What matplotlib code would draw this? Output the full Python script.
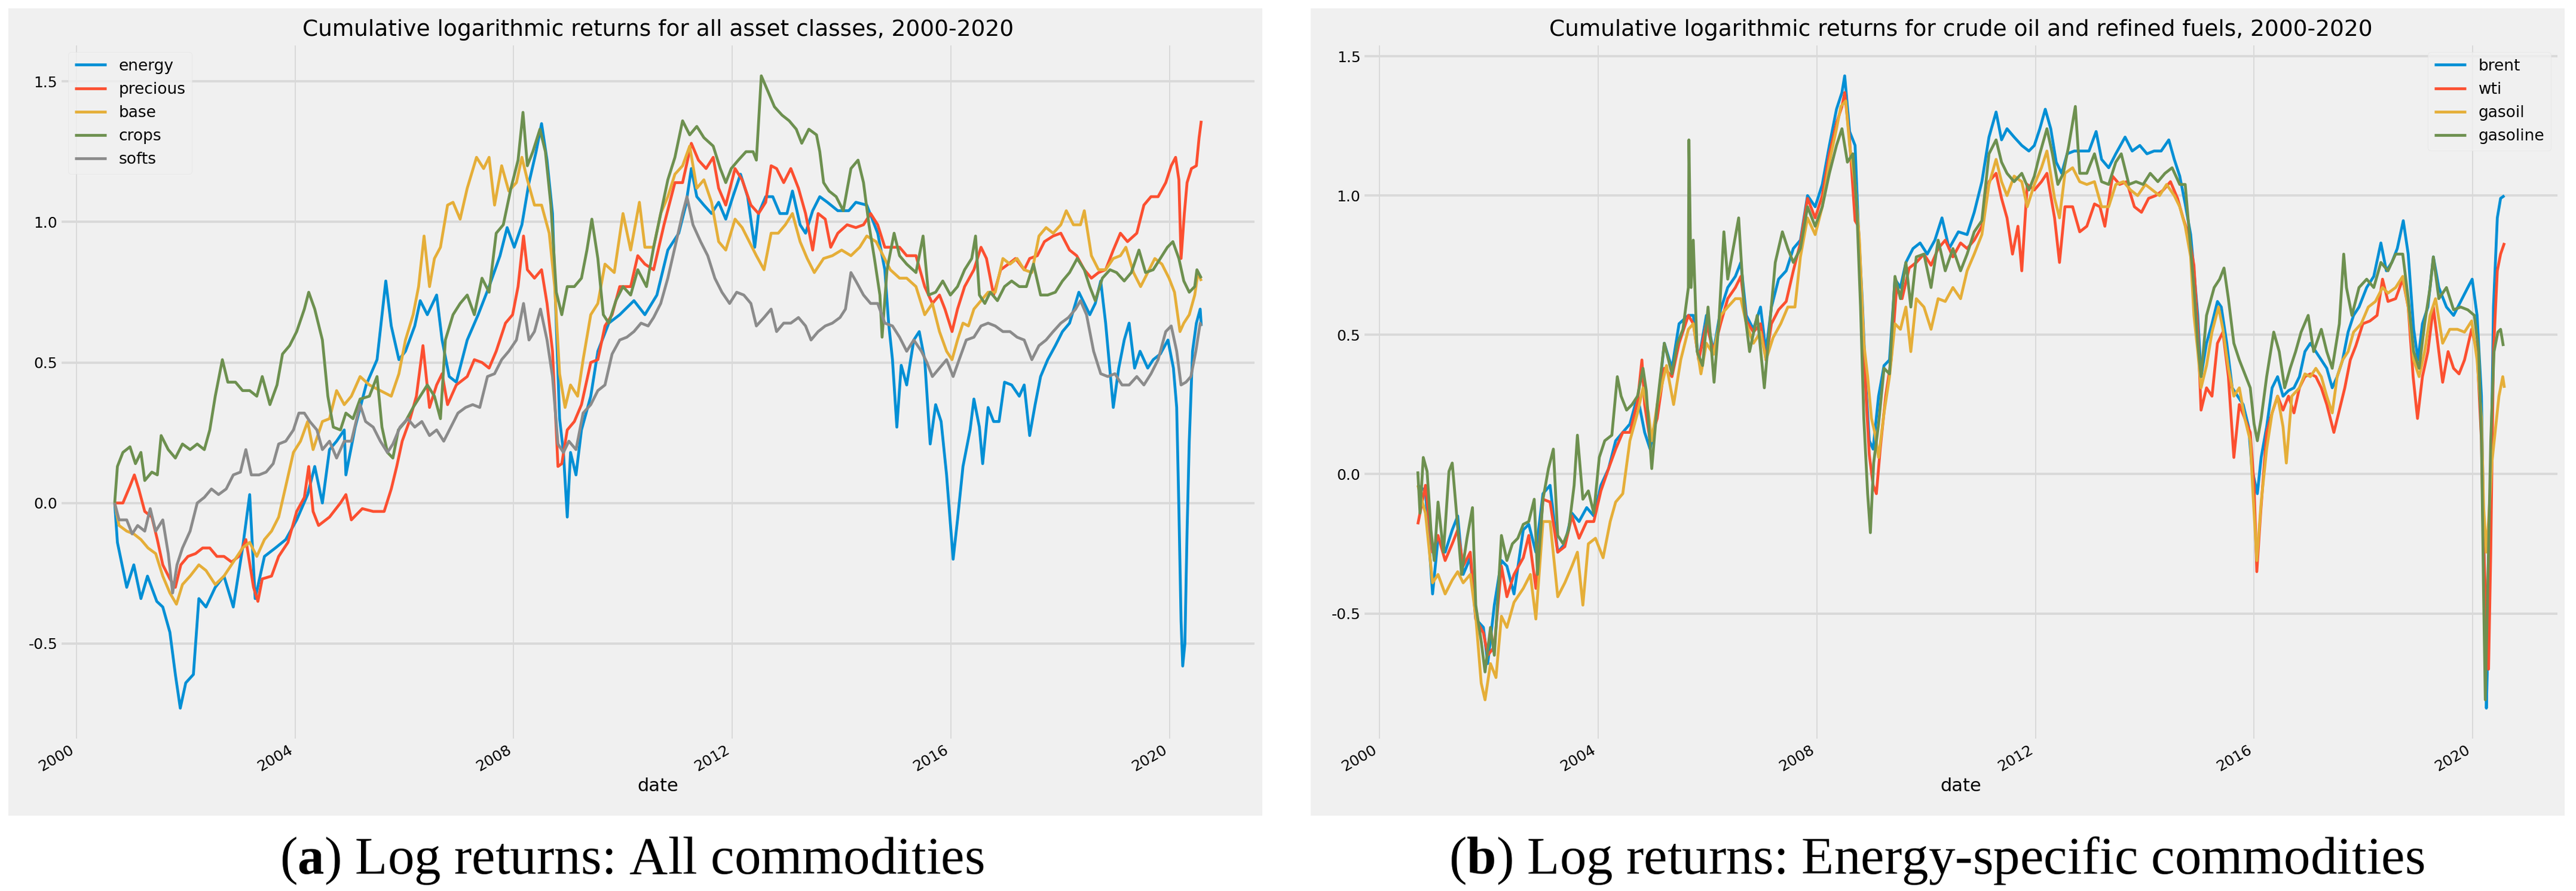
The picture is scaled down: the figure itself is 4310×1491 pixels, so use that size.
import numpy as np
import pandas as pd
import matplotlib
matplotlib.use('Agg')
import matplotlib.pyplot as plt
import matplotlib.dates as mdates
from matplotlib.patches import Rectangle

# cumulative log returns, as (decimal year, value)
energy = [
    (2000.70, 0.00), (2000.75, -0.14), (2000.92, -0.30), (2001.05, -0.22), (2001.18, -0.34),
    (2001.30, -0.26), (2001.47, -0.35), (2001.58, -0.37), (2001.71, -0.46), (2001.81, -0.61),
    (2001.90, -0.73), (2002.00, -0.64), (2002.14, -0.61), (2002.24, -0.34), (2002.37, -0.37),
    (2002.54, -0.30), (2002.70, -0.26), (2002.87, -0.37), (2003.04, -0.16), (2003.17, 0.03),
    (2003.27, -0.34), (2003.44, -0.19), (2003.64, -0.16), (2003.83, -0.13), (2004.03, -0.06),
    (2004.23, 0.03), (2004.36, 0.13), (2004.50, 0.00), (2004.63, 0.19), (2004.76, 0.22),
    (2004.90, 0.26), (2004.93, 0.10), (2005.10, 0.27), (2005.30, 0.42), (2005.50, 0.51),
    (2005.66, 0.79), (2005.76, 0.63), (2005.90, 0.51), (2006.02, 0.54), (2006.19, 0.63),
    (2006.29, 0.72), (2006.42, 0.67), (2006.59, 0.74), (2006.69, 0.58), (2006.82, 0.45),
    (2006.95, 0.43), (2007.15, 0.58), (2007.35, 0.67), (2007.55, 0.77), (2007.75, 0.88),
    (2007.88, 0.98), (2008.01, 0.91), (2008.15, 0.99), (2008.28, 1.14), (2008.41, 1.25),
    (2008.51, 1.35), (2008.61, 1.22), (2008.71, 1.03), (2008.78, 0.63), (2008.84, 0.30),
    (2008.91, 0.18), (2008.98, -0.05), (2009.04, 0.18), (2009.14, 0.10), (2009.24, 0.26),
    (2009.41, 0.38), (2009.54, 0.54), (2009.74, 0.64), (2009.94, 0.67), (2010.20, 0.72),
    (2010.40, 0.67), (2010.62, 0.74), (2010.82, 0.90), (2011.02, 0.96), (2011.15, 1.06),
    (2011.25, 1.19), (2011.35, 1.09), (2011.48, 1.06), (2011.62, 1.03), (2011.75, 1.07),
    (2011.88, 1.01), (2012.01, 1.09), (2012.15, 1.17), (2012.28, 1.09), (2012.41, 0.91),
    (2012.48, 1.03), (2012.61, 1.09), (2012.74, 1.09), (2012.87, 1.03), (2013.00, 1.03),
    (2013.10, 1.11), (2013.24, 0.99), (2013.34, 0.96), (2013.47, 1.04), (2013.60, 1.09),
    (2013.74, 1.07), (2013.93, 1.04), (2014.13, 1.04), (2014.26, 1.07), (2014.46, 1.06),
    (2014.66, 0.96), (2014.79, 0.83), (2014.86, 0.64), (2014.93, 0.51), (2015.01, 0.27),
    (2015.09, 0.49), (2015.19, 0.42), (2015.32, 0.58), (2015.42, 0.61), (2015.52, 0.51),
    (2015.62, 0.21), (2015.72, 0.35), (2015.82, 0.29), (2015.92, 0.10), (2016.04, -0.20),
    (2016.12, -0.06), (2016.22, 0.13), (2016.35, 0.26), (2016.42, 0.37), (2016.52, 0.27),
    (2016.58, 0.14), (2016.68, 0.34), (2016.78, 0.29), (2016.88, 0.29), (2016.98, 0.43),
    (2017.11, 0.42), (2017.25, 0.38), (2017.34, 0.42), (2017.44, 0.24), (2017.54, 0.35),
    (2017.64, 0.45), (2017.77, 0.51), (2017.91, 0.56), (2018.04, 0.61), (2018.17, 0.64),
    (2018.34, 0.75), (2018.44, 0.71), (2018.54, 0.67), (2018.64, 0.71), (2018.74, 0.79),
    (2018.83, 0.64), (2018.97, 0.34), (2019.07, 0.48), (2019.17, 0.58), (2019.26, 0.64),
    (2019.36, 0.48), (2019.46, 0.54), (2019.60, 0.48), (2019.70, 0.51), (2019.83, 0.53),
    (2019.97, 0.58), (2020.07, 0.48), (2020.13, 0.34), (2020.17, -0.02), (2020.21, -0.42),
    (2020.24, -0.58), (2020.28, -0.50), (2020.32, -0.10), (2020.36, 0.22), (2020.42, 0.54),
    (2020.49, 0.64), (2020.56, 0.69), (2020.58, 0.63),
]

precious = [
    (2000.70, 0.00), (2000.85, 0.00), (2000.98, 0.06), (2001.06, 0.10), (2001.14, 0.05),
    (2001.25, -0.03), (2001.38, -0.05), (2001.48, -0.13), (2001.58, -0.22), (2001.71, -0.27),
    (2001.81, -0.30), (2001.91, -0.22), (2002.04, -0.19), (2002.18, -0.18), (2002.31, -0.16),
    (2002.44, -0.16), (2002.57, -0.19), (2002.70, -0.19), (2002.84, -0.21), (2002.97, -0.19),
    (2003.10, -0.13), (2003.24, -0.30), (2003.32, -0.35), (2003.40, -0.27), (2003.57, -0.26),
    (2003.70, -0.19), (2003.87, -0.14), (2004.03, -0.03), (2004.17, 0.02), (2004.25, 0.13),
    (2004.33, -0.03), (2004.43, -0.08), (2004.63, -0.05), (2004.83, 0.00), (2004.93, 0.03),
    (2005.03, -0.06), (2005.23, -0.02), (2005.43, -0.03), (2005.63, -0.03), (2005.76, 0.05),
    (2005.86, 0.13), (2005.96, 0.22), (2006.09, 0.29), (2006.22, 0.38), (2006.34, 0.56),
    (2006.46, 0.34), (2006.59, 0.42), (2006.69, 0.46), (2006.79, 0.35), (2006.95, 0.42),
    (2007.15, 0.45), (2007.28, 0.51), (2007.42, 0.50), (2007.55, 0.48), (2007.68, 0.54),
    (2007.85, 0.64), (2007.98, 0.67), (2008.08, 0.77), (2008.18, 0.95), (2008.25, 0.83),
    (2008.38, 0.80), (2008.51, 0.83), (2008.61, 0.71), (2008.71, 0.54), (2008.81, 0.13),
    (2008.88, 0.14), (2008.98, 0.26), (2009.11, 0.29), (2009.24, 0.35), (2009.41, 0.50),
    (2009.54, 0.51), (2009.67, 0.63), (2009.80, 0.67), (2009.94, 0.77), (2010.14, 0.77),
    (2010.27, 0.88), (2010.40, 0.85), (2010.56, 0.83), (2010.75, 0.99), (2010.95, 1.14),
    (2011.09, 1.14), (2011.25, 1.28), (2011.38, 1.22), (2011.52, 1.19), (2011.65, 1.23),
    (2011.75, 1.12), (2011.88, 1.06), (2012.05, 1.19), (2012.18, 1.15), (2012.34, 1.06),
    (2012.48, 1.03), (2012.61, 1.07), (2012.71, 1.20), (2012.81, 1.19), (2012.94, 1.14),
    (2013.07, 1.19), (2013.21, 1.12), (2013.34, 1.03), (2013.47, 0.90), (2013.57, 1.03),
    (2013.70, 1.01), (2013.80, 0.91), (2013.93, 0.96), (2014.10, 0.99), (2014.26, 0.98),
    (2014.40, 0.99), (2014.53, 1.03), (2014.66, 0.99), (2014.79, 0.91), (2014.93, 0.91),
    (2015.06, 0.91), (2015.19, 0.88), (2015.36, 0.88), (2015.52, 0.77), (2015.66, 0.71),
    (2015.79, 0.74), (2015.89, 0.69), (2016.02, 0.61), (2016.12, 0.69), (2016.25, 0.77),
    (2016.42, 0.83), (2016.55, 0.91), (2016.65, 0.87), (2016.78, 0.74), (2016.91, 0.83),
    (2017.05, 0.85), (2017.18, 0.87), (2017.34, 0.83), (2017.44, 0.87), (2017.58, 0.88),
    (2017.71, 0.93), (2017.87, 0.95), (2018.01, 0.96), (2018.17, 0.90), (2018.30, 0.88),
    (2018.44, 0.83), (2018.57, 0.80), (2018.70, 0.82), (2018.83, 0.83), (2018.97, 0.90),
    (2019.10, 0.96), (2019.23, 0.93), (2019.40, 0.96), (2019.53, 1.06), (2019.66, 1.09),
    (2019.79, 1.09), (2019.93, 1.14), (2020.03, 1.20), (2020.11, 1.23), (2020.17, 1.15),
    (2020.21, 0.87), (2020.27, 1.03), (2020.32, 1.14), (2020.40, 1.19), (2020.49, 1.20),
    (2020.54, 1.30), (2020.58, 1.36),
]

base = [
    (2000.70, 0.00), (2000.78, -0.08), (2000.92, -0.10), (2001.05, -0.11), (2001.18, -0.13),
    (2001.31, -0.16), (2001.45, -0.18), (2001.58, -0.26), (2001.71, -0.32), (2001.83, -0.36),
    (2001.94, -0.29), (2002.08, -0.26), (2002.24, -0.22), (2002.37, -0.24), (2002.54, -0.29),
    (2002.70, -0.26), (2002.87, -0.21), (2003.04, -0.16), (2003.17, -0.14), (2003.30, -0.19),
    (2003.44, -0.13), (2003.57, -0.10), (2003.70, -0.05), (2003.83, 0.06), (2003.97, 0.18),
    (2004.10, 0.22), (2004.23, 0.29), (2004.33, 0.19), (2004.50, 0.29), (2004.63, 0.30),
    (2004.76, 0.40), (2004.90, 0.35), (2005.03, 0.38), (2005.19, 0.45), (2005.36, 0.42),
    (2005.56, 0.40), (2005.76, 0.38), (2005.90, 0.46), (2006.02, 0.58), (2006.16, 0.67),
    (2006.26, 0.77), (2006.36, 0.95), (2006.46, 0.77), (2006.55, 0.87), (2006.66, 0.91),
    (2006.79, 1.06), (2006.89, 1.07), (2007.02, 1.01), (2007.15, 1.12), (2007.32, 1.23),
    (2007.45, 1.19), (2007.55, 1.23), (2007.65, 1.06), (2007.78, 1.20), (2007.91, 1.11),
    (2008.05, 1.14), (2008.15, 1.23), (2008.25, 1.15), (2008.38, 1.06), (2008.51, 1.06),
    (2008.65, 0.96), (2008.75, 0.77), (2008.84, 0.46), (2008.94, 0.34), (2009.04, 0.42),
    (2009.17, 0.38), (2009.27, 0.51), (2009.41, 0.67), (2009.54, 0.71), (2009.67, 0.85),
    (2009.84, 0.82), (2010.00, 1.03), (2010.14, 0.90), (2010.30, 1.07), (2010.40, 0.91),
    (2010.56, 0.91), (2010.69, 1.03), (2010.82, 1.09), (2010.95, 1.17), (2011.09, 1.20),
    (2011.22, 1.27), (2011.35, 1.12), (2011.48, 1.15), (2011.62, 1.07), (2011.75, 0.93),
    (2011.88, 0.90), (2012.05, 1.01), (2012.18, 0.98), (2012.31, 0.93), (2012.44, 0.88),
    (2012.58, 0.83), (2012.71, 0.96), (2012.84, 0.96), (2012.97, 0.99), (2013.10, 1.03),
    (2013.24, 0.93), (2013.37, 0.87), (2013.50, 0.82), (2013.67, 0.87), (2013.83, 0.88),
    (2014.00, 0.90), (2014.17, 0.88), (2014.33, 0.91), (2014.46, 0.95), (2014.63, 0.93),
    (2014.76, 0.88), (2014.89, 0.83), (2015.06, 0.80), (2015.19, 0.80), (2015.36, 0.77),
    (2015.52, 0.67), (2015.66, 0.71), (2015.79, 0.61), (2015.92, 0.54), (2016.02, 0.51),
    (2016.12, 0.58), (2016.22, 0.64), (2016.32, 0.63), (2016.42, 0.69), (2016.55, 0.72),
    (2016.68, 0.75), (2016.81, 0.75), (2016.95, 0.87), (2017.08, 0.85), (2017.21, 0.87),
    (2017.34, 0.83), (2017.48, 0.82), (2017.61, 0.95), (2017.74, 0.98), (2017.87, 0.96),
    (2018.01, 0.99), (2018.11, 1.04), (2018.24, 0.99), (2018.37, 0.99), (2018.44, 1.04),
    (2018.57, 0.88), (2018.70, 0.83), (2018.83, 0.83), (2018.97, 0.87), (2019.10, 0.88),
    (2019.20, 0.91), (2019.34, 0.82), (2019.47, 0.77), (2019.60, 0.82), (2019.73, 0.87),
    (2019.86, 0.85), (2019.99, 0.80), (2020.09, 0.75), (2020.19, 0.61), (2020.26, 0.64),
    (2020.36, 0.67), (2020.46, 0.74), (2020.52, 0.82), (2020.58, 0.79),
]

crops = [
    (2000.70, 0.00), (2000.75, 0.13), (2000.85, 0.18), (2000.98, 0.20), (2001.08, 0.14),
    (2001.18, 0.18), (2001.25, 0.08), (2001.38, 0.11), (2001.48, 0.10), (2001.55, 0.24),
    (2001.68, 0.19), (2001.81, 0.16), (2001.94, 0.21), (2002.08, 0.19), (2002.21, 0.21),
    (2002.34, 0.19), (2002.44, 0.26), (2002.54, 0.38), (2002.67, 0.51), (2002.77, 0.43),
    (2002.91, 0.43), (2003.04, 0.40), (2003.17, 0.40), (2003.30, 0.38), (2003.40, 0.45),
    (2003.54, 0.35), (2003.67, 0.42), (2003.77, 0.53), (2003.90, 0.56), (2004.03, 0.61),
    (2004.17, 0.69), (2004.25, 0.75), (2004.36, 0.69), (2004.50, 0.58), (2004.60, 0.38),
    (2004.70, 0.27), (2004.83, 0.26), (2004.93, 0.32), (2005.06, 0.30), (2005.19, 0.37),
    (2005.36, 0.38), (2005.50, 0.45), (2005.59, 0.27), (2005.69, 0.18), (2005.79, 0.16),
    (2005.89, 0.26), (2006.02, 0.29), (2006.16, 0.34), (2006.29, 0.38), (2006.42, 0.42),
    (2006.55, 0.38), (2006.66, 0.30), (2006.75, 0.58), (2006.89, 0.67), (2007.02, 0.71),
    (2007.15, 0.74), (2007.28, 0.67), (2007.42, 0.80), (2007.55, 0.75), (2007.68, 0.96),
    (2007.81, 0.99), (2007.95, 1.12), (2008.08, 1.22), (2008.17, 1.39), (2008.25, 1.20),
    (2008.35, 1.25), (2008.48, 1.33), (2008.58, 1.25), (2008.68, 1.06), (2008.78, 0.75),
    (2008.88, 0.67), (2008.98, 0.77), (2009.11, 0.77), (2009.24, 0.80), (2009.34, 0.90),
    (2009.43, 1.01), (2009.54, 0.87), (2009.64, 0.67), (2009.74, 0.64), (2009.87, 0.72),
    (2010.00, 0.77), (2010.14, 0.74), (2010.27, 0.83), (2010.43, 0.77), (2010.56, 0.91),
    (2010.69, 1.03), (2010.82, 1.15), (2010.95, 1.23), (2011.09, 1.36), (2011.22, 1.31),
    (2011.35, 1.34), (2011.48, 1.30), (2011.65, 1.27), (2011.78, 1.19), (2011.88, 1.14),
    (2011.98, 1.19), (2012.11, 1.22), (2012.25, 1.25), (2012.38, 1.25), (2012.44, 1.22),
    (2012.53, 1.52), (2012.64, 1.47), (2012.77, 1.41), (2012.91, 1.38), (2013.04, 1.36),
    (2013.17, 1.33), (2013.27, 1.28), (2013.40, 1.33), (2013.54, 1.31), (2013.60, 1.25),
    (2013.67, 1.14), (2013.77, 1.11), (2013.90, 1.09), (2014.03, 1.04), (2014.17, 1.19),
    (2014.30, 1.22), (2014.40, 1.14), (2014.50, 0.99), (2014.60, 0.87), (2014.70, 0.74),
    (2014.74, 0.59), (2014.83, 0.83), (2014.96, 0.96), (2015.06, 0.88), (2015.19, 0.85),
    (2015.36, 0.82), (2015.49, 0.95), (2015.59, 0.74), (2015.72, 0.75), (2015.85, 0.79),
    (2015.99, 0.74), (2016.12, 0.77), (2016.25, 0.83), (2016.38, 0.87), (2016.45, 0.95),
    (2016.52, 0.74), (2016.62, 0.71), (2016.72, 0.75), (2016.85, 0.72), (2016.98, 0.77),
    (2017.11, 0.79), (2017.25, 0.77), (2017.38, 0.77), (2017.51, 0.85), (2017.64, 0.74),
    (2017.77, 0.74), (2017.91, 0.75), (2018.04, 0.79), (2018.17, 0.82), (2018.31, 0.87),
    (2018.44, 0.83), (2018.54, 0.77), (2018.64, 0.72), (2018.77, 0.80), (2018.91, 0.83),
    (2019.03, 0.82), (2019.17, 0.79), (2019.30, 0.82), (2019.44, 0.90), (2019.56, 0.82),
    (2019.70, 0.83), (2019.83, 0.87), (2019.96, 0.91), (2020.06, 0.93), (2020.17, 0.87),
    (2020.26, 0.79), (2020.36, 0.75), (2020.46, 0.77), (2020.50, 0.83), (2020.58, 0.80),
]

softs = [
    (2000.70, 0.00), (2000.78, -0.06), (2000.92, -0.06), (2001.02, -0.11), (2001.12, -0.08),
    (2001.25, -0.10), (2001.35, -0.02), (2001.45, -0.10), (2001.58, -0.06), (2001.68, -0.18),
    (2001.76, -0.32), (2001.84, -0.22), (2001.94, -0.16), (2002.08, -0.10), (2002.21, 0.00),
    (2002.34, 0.02), (2002.47, 0.05), (2002.60, 0.03), (2002.74, 0.05), (2002.87, 0.10),
    (2003.00, 0.11), (2003.10, 0.19), (2003.20, 0.10), (2003.34, 0.10), (2003.47, 0.11),
    (2003.60, 0.14), (2003.70, 0.21), (2003.83, 0.22), (2003.97, 0.26), (2004.07, 0.32),
    (2004.17, 0.32), (2004.27, 0.29), (2004.40, 0.26), (2004.50, 0.19), (2004.63, 0.22),
    (2004.76, 0.16), (2004.90, 0.22), (2005.03, 0.22), (2005.19, 0.35), (2005.29, 0.29),
    (2005.43, 0.27), (2005.56, 0.22), (2005.69, 0.18), (2005.79, 0.21), (2005.92, 0.27),
    (2006.06, 0.30), (2006.19, 0.27), (2006.32, 0.29), (2006.46, 0.24), (2006.59, 0.26),
    (2006.72, 0.22), (2006.85, 0.27), (2006.98, 0.32), (2007.12, 0.34), (2007.25, 0.35),
    (2007.38, 0.34), (2007.52, 0.45), (2007.65, 0.46), (2007.78, 0.51), (2007.91, 0.54),
    (2008.05, 0.58), (2008.18, 0.71), (2008.28, 0.58), (2008.38, 0.61), (2008.49, 0.69),
    (2008.61, 0.58), (2008.71, 0.45), (2008.81, 0.21), (2008.91, 0.18), (2009.01, 0.22),
    (2009.14, 0.19), (2009.27, 0.32), (2009.41, 0.35), (2009.54, 0.40), (2009.67, 0.42),
    (2009.80, 0.53), (2009.94, 0.58), (2010.07, 0.59), (2010.20, 0.61), (2010.33, 0.64),
    (2010.46, 0.63), (2010.56, 0.66), (2010.69, 0.71), (2010.82, 0.80), (2010.95, 0.91),
    (2011.09, 1.03), (2011.17, 1.09), (2011.28, 0.99), (2011.42, 0.93), (2011.55, 0.88),
    (2011.68, 0.80), (2011.81, 0.75), (2011.95, 0.71), (2012.08, 0.75), (2012.21, 0.74),
    (2012.34, 0.71), (2012.44, 0.63), (2012.58, 0.66), (2012.71, 0.69), (2012.81, 0.61),
    (2012.94, 0.64), (2013.07, 0.64), (2013.21, 0.66), (2013.34, 0.63), (2013.44, 0.58),
    (2013.57, 0.61), (2013.70, 0.63), (2013.83, 0.64), (2013.97, 0.66), (2014.07, 0.69),
    (2014.17, 0.82), (2014.26, 0.79), (2014.40, 0.74), (2014.53, 0.71), (2014.66, 0.71),
    (2014.79, 0.64), (2014.93, 0.63), (2015.06, 0.59), (2015.19, 0.54), (2015.32, 0.58),
    (2015.46, 0.54), (2015.56, 0.50), (2015.66, 0.45), (2015.79, 0.48), (2015.92, 0.51),
    (2016.04, 0.45), (2016.15, 0.51), (2016.28, 0.58), (2016.42, 0.59), (2016.55, 0.63),
    (2016.68, 0.64), (2016.81, 0.63), (2016.95, 0.61), (2017.08, 0.61), (2017.21, 0.59),
    (2017.34, 0.58), (2017.48, 0.51), (2017.61, 0.56), (2017.74, 0.58), (2017.87, 0.61),
    (2018.01, 0.64), (2018.15, 0.66), (2018.28, 0.69), (2018.37, 0.72), (2018.48, 0.67),
    (2018.61, 0.54), (2018.74, 0.46), (2018.87, 0.45), (2019.00, 0.46), (2019.13, 0.42),
    (2019.26, 0.42), (2019.40, 0.45), (2019.53, 0.42), (2019.66, 0.46), (2019.79, 0.51),
    (2019.93, 0.61), (2020.03, 0.63), (2020.13, 0.54), (2020.21, 0.42), (2020.30, 0.43),
    (2020.39, 0.45), (2020.48, 0.54), (2020.56, 0.64), (2020.58, 0.63),
]

brent = [
    (2000.70, -0.04), (2000.84, -0.06), (2000.97, -0.43), (2001.07, -0.23), (2001.20, -0.28),
    (2001.33, -0.20), (2001.43, -0.15), (2001.53, -0.36), (2001.66, -0.30), (2001.76, -0.52),
    (2001.90, -0.55), (2001.98, -0.68), (2002.10, -0.47), (2002.23, -0.31), (2002.33, -0.33),
    (2002.46, -0.43), (2002.63, -0.20), (2002.73, -0.18), (2002.86, -0.28), (2002.99, -0.07),
    (2003.12, -0.04), (2003.26, -0.28), (2003.39, -0.25), (2003.52, -0.14), (2003.65, -0.17),
    (2003.79, -0.12), (2003.92, -0.15), (2004.05, -0.04), (2004.19, 0.02), (2004.32, 0.12),
    (2004.45, 0.15), (2004.58, 0.18), (2004.72, 0.28), (2004.85, 0.15), (2004.95, 0.09),
    (2005.08, 0.23), (2005.21, 0.47), (2005.35, 0.38), (2005.48, 0.54), (2005.65, 0.57),
    (2005.74, 0.57), (2005.84, 0.41), (2005.98, 0.57), (2006.11, 0.44), (2006.24, 0.59),
    (2006.37, 0.67), (2006.51, 0.71), (2006.61, 0.76), (2006.71, 0.57), (2006.84, 0.52),
    (2006.97, 0.60), (2007.07, 0.44), (2007.17, 0.60), (2007.30, 0.70), (2007.44, 0.73),
    (2007.57, 0.81), (2007.70, 0.84), (2007.83, 1.00), (2007.97, 0.96), (2008.10, 1.04),
    (2008.23, 1.18), (2008.36, 1.31), (2008.46, 1.37), (2008.51, 1.43), (2008.60, 1.23),
    (2008.70, 1.18), (2008.76, 0.89), (2008.83, 0.63), (2008.90, 0.31), (2008.96, 0.12),
    (2009.03, 0.09), (2009.13, 0.28), (2009.23, 0.39), (2009.33, 0.41), (2009.43, 0.70),
    (2009.53, 0.67), (2009.63, 0.76), (2009.76, 0.81), (2009.89, 0.83), (2010.02, 0.79),
    (2010.16, 0.84), (2010.29, 0.92), (2010.42, 0.81), (2010.59, 0.87), (2010.75, 0.86),
    (2010.88, 0.94), (2011.02, 1.05), (2011.15, 1.21), (2011.28, 1.30), (2011.38, 1.20),
    (2011.48, 1.24), (2011.61, 1.21), (2011.75, 1.18), (2011.88, 1.16), (2011.98, 1.18),
    (2012.08, 1.24), (2012.18, 1.31), (2012.28, 1.24), (2012.38, 1.12), (2012.48, 1.08),
    (2012.58, 1.15), (2012.71, 1.16), (2012.84, 1.16), (2012.98, 1.16), (2013.11, 1.23),
    (2013.21, 1.13), (2013.34, 1.10), (2013.47, 1.15), (2013.64, 1.21), (2013.77, 1.16),
    (2013.91, 1.18), (2014.04, 1.15), (2014.17, 1.16), (2014.30, 1.16), (2014.44, 1.20),
    (2014.54, 1.13), (2014.64, 1.07), (2014.74, 0.97), (2014.84, 0.86), (2014.90, 0.73),
    (2014.97, 0.57), (2015.03, 0.35), (2015.13, 0.47), (2015.23, 0.54), (2015.33, 0.62),
    (2015.40, 0.60), (2015.50, 0.47), (2015.60, 0.31), (2015.70, 0.28), (2015.80, 0.25),
    (2015.90, 0.17), (2015.96, 0.02), (2016.06, -0.07), (2016.13, 0.06), (2016.23, 0.17),
    (2016.33, 0.31), (2016.43, 0.35), (2016.53, 0.28), (2016.63, 0.30), (2016.73, 0.31),
    (2016.83, 0.35), (2016.93, 0.44), (2017.03, 0.47), (2017.13, 0.44), (2017.23, 0.41),
    (2017.33, 0.38), (2017.43, 0.31), (2017.52, 0.35), (2017.62, 0.41), (2017.72, 0.51),
    (2017.82, 0.57), (2017.92, 0.60), (2018.06, 0.67), (2018.19, 0.71), (2018.32, 0.83),
    (2018.42, 0.73), (2018.52, 0.76), (2018.62, 0.81), (2018.73, 0.91), (2018.82, 0.79),
    (2018.92, 0.52), (2019.00, 0.41), (2019.08, 0.54), (2019.18, 0.60), (2019.28, 0.78),
    (2019.38, 0.67), (2019.52, 0.60), (2019.65, 0.57), (2019.78, 0.62), (2019.91, 0.67),
    (2019.99, 0.70), (2020.08, 0.57), (2020.16, 0.28), (2020.20, -0.20), (2020.25, -0.84),
    (2020.28, -0.60), (2020.33, -0.04), (2020.38, 0.60), (2020.45, 0.92), (2020.51, 0.99),
    (2020.58, 1.00),
]

wti = [
    (2000.70, -0.18), (2000.84, -0.04), (2000.97, -0.28), (2001.07, -0.22), (2001.20, -0.31),
    (2001.33, -0.25), (2001.43, -0.20), (2001.53, -0.33), (2001.66, -0.28), (2001.76, -0.52),
    (2001.90, -0.57), (2001.98, -0.65), (2002.10, -0.62), (2002.23, -0.33), (2002.33, -0.44),
    (2002.46, -0.36), (2002.63, -0.30), (2002.73, -0.22), (2002.86, -0.41), (2002.99, -0.09),
    (2003.12, -0.10), (2003.26, -0.28), (2003.39, -0.26), (2003.52, -0.15), (2003.65, -0.23),
    (2003.79, -0.17), (2003.92, -0.17), (2004.05, -0.06), (2004.19, 0.02), (2004.32, 0.09),
    (2004.45, 0.15), (2004.58, 0.15), (2004.72, 0.26), (2004.80, 0.41), (2004.85, 0.25),
    (2004.95, 0.12), (2005.08, 0.20), (2005.21, 0.38), (2005.35, 0.35), (2005.48, 0.47),
    (2005.65, 0.57), (2005.74, 0.54), (2005.84, 0.41), (2005.98, 0.54), (2006.11, 0.44),
    (2006.24, 0.54), (2006.37, 0.63), (2006.51, 0.67), (2006.61, 0.71), (2006.71, 0.55),
    (2006.84, 0.51), (2006.97, 0.54), (2007.07, 0.41), (2007.17, 0.54), (2007.30, 0.59),
    (2007.44, 0.62), (2007.57, 0.73), (2007.70, 0.83), (2007.83, 0.99), (2007.97, 0.92),
    (2008.10, 1.00), (2008.23, 1.15), (2008.36, 1.26), (2008.46, 1.32), (2008.51, 1.37),
    (2008.60, 1.20), (2008.70, 0.91), (2008.76, 0.89), (2008.83, 0.60), (2008.90, 0.28),
    (2008.96, 0.07), (2009.03, -0.04), (2009.09, -0.07), (2009.16, 0.09), (2009.26, 0.28),
    (2009.36, 0.41), (2009.46, 0.67), (2009.56, 0.63), (2009.69, 0.74), (2009.82, 0.76),
    (2009.96, 0.79), (2010.09, 0.75), (2010.22, 0.81), (2010.35, 0.84), (2010.49, 0.78),
    (2010.63, 0.83), (2010.75, 0.81), (2010.88, 0.84), (2011.02, 0.89), (2011.15, 1.05),
    (2011.28, 1.08), (2011.38, 0.99), (2011.48, 0.92), (2011.58, 0.79), (2011.68, 0.89),
    (2011.75, 0.73), (2011.85, 1.04), (2011.98, 1.02), (2012.11, 1.05), (2012.21, 1.08),
    (2012.35, 0.92), (2012.44, 0.76), (2012.54, 0.96), (2012.68, 0.96), (2012.81, 0.87),
    (2012.94, 0.89), (2013.08, 0.97), (2013.18, 0.96), (2013.27, 0.89), (2013.41, 1.07),
    (2013.54, 1.04), (2013.67, 1.05), (2013.81, 0.96), (2013.94, 0.94), (2014.07, 0.99),
    (2014.20, 1.00), (2014.34, 1.02), (2014.47, 1.05), (2014.60, 0.99), (2014.70, 0.92),
    (2014.80, 0.86), (2014.90, 0.75), (2014.97, 0.52), (2015.03, 0.23), (2015.13, 0.31),
    (2015.23, 0.28), (2015.33, 0.47), (2015.43, 0.51), (2015.53, 0.35), (2015.63, 0.06),
    (2015.73, 0.25), (2015.83, 0.20), (2015.93, 0.15), (2016.00, -0.04), (2016.05, -0.35),
    (2016.12, -0.14), (2016.23, 0.15), (2016.33, 0.22), (2016.43, 0.28), (2016.53, 0.23),
    (2016.63, 0.28), (2016.73, 0.22), (2016.83, 0.31), (2016.93, 0.35), (2017.03, 0.36),
    (2017.13, 0.35), (2017.23, 0.31), (2017.33, 0.25), (2017.46, 0.15), (2017.56, 0.23),
    (2017.66, 0.31), (2017.76, 0.41), (2017.86, 0.46), (2017.99, 0.54), (2018.12, 0.55),
    (2018.25, 0.57), (2018.35, 0.70), (2018.45, 0.62), (2018.59, 0.63), (2018.72, 0.70),
    (2018.82, 0.60), (2018.91, 0.35), (2018.99, 0.20), (2019.08, 0.35), (2019.18, 0.44),
    (2019.28, 0.60), (2019.38, 0.44), (2019.45, 0.33), (2019.55, 0.44), (2019.65, 0.38),
    (2019.75, 0.36), (2019.85, 0.41), (2019.98, 0.52), (2020.08, 0.44), (2020.16, 0.12),
    (2020.19, -0.20), (2020.25, -0.52), (2020.29, -0.70), (2020.33, -0.28), (2020.38, 0.44),
    (2020.45, 0.73), (2020.51, 0.79), (2020.58, 0.83),
]

gasoil = [
    (2000.70, -0.04), (2000.84, -0.14), (2000.97, -0.39), (2001.07, -0.36), (2001.20, -0.43),
    (2001.33, -0.38), (2001.43, -0.35), (2001.53, -0.39), (2001.66, -0.36), (2001.76, -0.51),
    (2001.86, -0.75), (2001.93, -0.81), (2002.03, -0.68), (2002.13, -0.73), (2002.23, -0.51),
    (2002.33, -0.55), (2002.46, -0.46), (2002.63, -0.41), (2002.76, -0.36), (2002.86, -0.52),
    (2002.99, -0.17), (2003.12, -0.17), (2003.26, -0.44), (2003.39, -0.39), (2003.52, -0.33),
    (2003.62, -0.28), (2003.72, -0.47), (2003.82, -0.25), (2003.95, -0.23), (2004.09, -0.30),
    (2004.22, -0.17), (2004.32, -0.10), (2004.45, -0.07), (2004.58, 0.12), (2004.72, 0.22),
    (2004.82, 0.31), (2004.92, 0.22), (2004.98, 0.12), (2005.08, 0.25), (2005.25, 0.39),
    (2005.38, 0.25), (2005.51, 0.41), (2005.65, 0.52), (2005.74, 0.54), (2005.88, 0.36),
    (2005.98, 0.47), (2006.11, 0.43), (2006.24, 0.57), (2006.37, 0.60), (2006.51, 0.63),
    (2006.61, 0.63), (2006.71, 0.54), (2006.84, 0.47), (2006.97, 0.51), (2007.07, 0.41),
    (2007.20, 0.49), (2007.34, 0.54), (2007.47, 0.60), (2007.60, 0.60), (2007.70, 0.78),
    (2007.83, 0.92), (2007.97, 0.86), (2008.10, 0.96), (2008.23, 1.12), (2008.36, 1.24),
    (2008.44, 1.32), (2008.53, 1.34), (2008.60, 1.18), (2008.70, 1.04), (2008.78, 0.84),
    (2008.86, 0.47), (2008.93, 0.35), (2009.00, 0.20), (2009.06, 0.15), (2009.13, 0.06),
    (2009.23, 0.22), (2009.33, 0.35), (2009.43, 0.54), (2009.53, 0.52), (2009.63, 0.60),
    (2009.72, 0.44), (2009.82, 0.63), (2009.96, 0.60), (2010.09, 0.52), (2010.22, 0.63),
    (2010.35, 0.62), (2010.49, 0.67), (2010.63, 0.63), (2010.75, 0.73), (2010.88, 0.79),
    (2011.02, 0.86), (2011.15, 1.04), (2011.28, 1.13), (2011.38, 1.05), (2011.48, 1.00),
    (2011.61, 1.07), (2011.75, 1.05), (2011.85, 0.96), (2011.98, 1.04), (2012.11, 1.10),
    (2012.21, 1.16), (2012.35, 0.99), (2012.44, 0.92), (2012.54, 1.08), (2012.68, 1.10),
    (2012.81, 1.05), (2012.94, 1.04), (2013.08, 1.05), (2013.21, 0.96), (2013.34, 0.96),
    (2013.47, 1.04), (2013.61, 1.05), (2013.74, 1.02), (2013.87, 1.00), (2014.01, 1.04),
    (2014.14, 1.02), (2014.27, 1.00), (2014.40, 1.04), (2014.54, 1.00), (2014.64, 0.96),
    (2014.74, 0.89), (2014.84, 0.78), (2014.90, 0.57), (2014.97, 0.44), (2015.03, 0.31),
    (2015.13, 0.39), (2015.23, 0.51), (2015.35, 0.60), (2015.43, 0.52), (2015.53, 0.38),
    (2015.63, 0.28), (2015.73, 0.31), (2015.83, 0.20), (2015.93, 0.12), (2015.98, -0.07),
    (2016.05, -0.31), (2016.13, -0.10), (2016.23, 0.09), (2016.33, 0.22), (2016.43, 0.28),
    (2016.53, 0.17), (2016.59, 0.04), (2016.69, 0.28), (2016.83, 0.31), (2016.93, 0.36),
    (2017.03, 0.35), (2017.13, 0.38), (2017.23, 0.35), (2017.33, 0.28), (2017.43, 0.22),
    (2017.52, 0.35), (2017.62, 0.41), (2017.72, 0.44), (2017.82, 0.51), (2017.96, 0.54),
    (2018.09, 0.60), (2018.22, 0.62), (2018.35, 0.67), (2018.45, 0.65), (2018.59, 0.67),
    (2018.72, 0.71), (2018.82, 0.60), (2018.92, 0.41), (2019.02, 0.35), (2019.12, 0.44),
    (2019.22, 0.57), (2019.32, 0.63), (2019.45, 0.47), (2019.58, 0.52), (2019.72, 0.52),
    (2019.85, 0.51), (2019.98, 0.55), (2020.08, 0.41), (2020.16, 0.20), (2020.20, -0.12),
    (2020.25, -0.28), (2020.29, -0.17), (2020.35, 0.04), (2020.41, 0.15), (2020.48, 0.28),
    (2020.55, 0.35), (2020.58, 0.31),
]

gasoline = [
    (2000.70, 0.01), (2000.74, -0.14), (2000.80, 0.06), (2000.87, 0.01), (2000.94, -0.20),
    (2001.00, -0.31), (2001.07, -0.10), (2001.17, -0.28), (2001.27, 0.01), (2001.33, 0.04),
    (2001.40, -0.12), (2001.50, -0.36), (2001.60, -0.23), (2001.70, -0.12), (2001.76, -0.47),
    (2001.86, -0.60), (2001.93, -0.71), (2002.03, -0.55), (2002.10, -0.65), (2002.16, -0.46),
    (2002.23, -0.22), (2002.33, -0.31), (2002.43, -0.25), (2002.53, -0.23), (2002.63, -0.18),
    (2002.73, -0.17), (2002.83, -0.09), (2002.89, -0.36), (2002.99, -0.09), (2003.09, 0.02),
    (2003.18, 0.09), (2003.26, -0.22), (2003.36, -0.25), (2003.46, -0.20), (2003.56, -0.04),
    (2003.62, 0.14), (2003.72, -0.09), (2003.82, -0.06), (2003.92, -0.14), (2004.02, 0.06),
    (2004.12, 0.12), (2004.25, 0.14), (2004.35, 0.35), (2004.42, 0.28), (2004.52, 0.23),
    (2004.62, 0.25), (2004.72, 0.28), (2004.82, 0.38), (2004.88, 0.30), (2004.98, 0.02),
    (2005.08, 0.25), (2005.21, 0.47), (2005.35, 0.36), (2005.45, 0.47), (2005.55, 0.52),
    (2005.65, 0.67), (2005.66, 1.20), (2005.70, 0.67), (2005.74, 0.84), (2005.81, 0.44),
    (2005.91, 0.39), (2006.01, 0.60), (2006.12, 0.33), (2006.21, 0.55), (2006.30, 0.87),
    (2006.37, 0.70), (2006.47, 0.81), (2006.57, 0.92), (2006.67, 0.60), (2006.77, 0.44),
    (2006.91, 0.57), (2007.04, 0.31), (2007.14, 0.54), (2007.24, 0.76), (2007.37, 0.87),
    (2007.47, 0.81), (2007.57, 0.76), (2007.70, 0.81), (2007.83, 0.96), (2007.97, 0.89),
    (2008.10, 0.96), (2008.23, 1.08), (2008.36, 1.18), (2008.46, 1.24), (2008.56, 1.12),
    (2008.66, 1.15), (2008.73, 0.96), (2008.80, 0.60), (2008.86, 0.20), (2008.93, -0.07),
    (2008.98, -0.21), (2009.04, 0.04), (2009.13, 0.18), (2009.23, 0.38), (2009.33, 0.36),
    (2009.43, 0.71), (2009.53, 0.63), (2009.63, 0.76), (2009.72, 0.60), (2009.82, 0.78),
    (2009.96, 0.79), (2010.09, 0.67), (2010.22, 0.84), (2010.35, 0.73), (2010.49, 0.81),
    (2010.63, 0.73), (2010.75, 0.79), (2010.88, 0.87), (2011.02, 0.91), (2011.15, 1.15),
    (2011.28, 1.20), (2011.38, 1.12), (2011.48, 1.08), (2011.61, 1.05), (2011.75, 1.08),
    (2011.88, 1.02), (2011.98, 1.07), (2012.08, 1.15), (2012.21, 1.24), (2012.31, 1.15),
    (2012.41, 1.04), (2012.51, 1.08), (2012.61, 1.18), (2012.73, 1.32), (2012.81, 1.08),
    (2012.94, 1.08), (2013.08, 1.15), (2013.21, 1.05), (2013.34, 1.04), (2013.47, 1.12),
    (2013.57, 1.15), (2013.71, 1.04), (2013.84, 1.05), (2013.97, 1.04), (2014.10, 1.08),
    (2014.24, 1.05), (2014.37, 1.08), (2014.50, 1.10), (2014.64, 1.04), (2014.74, 1.04),
    (2014.84, 0.81), (2014.90, 0.67), (2014.97, 0.47), (2015.03, 0.35), (2015.13, 0.57),
    (2015.27, 0.67), (2015.37, 0.70), (2015.45, 0.74), (2015.53, 0.63), (2015.63, 0.47),
    (2015.73, 0.41), (2015.83, 0.36), (2015.93, 0.31), (2016.00, 0.18), (2016.06, 0.12),
    (2016.13, 0.20), (2016.23, 0.35), (2016.36, 0.51), (2016.46, 0.44), (2016.56, 0.31),
    (2016.66, 0.38), (2016.76, 0.44), (2016.86, 0.51), (2016.99, 0.57), (2017.09, 0.44),
    (2017.23, 0.52), (2017.33, 0.44), (2017.43, 0.38), (2017.56, 0.54), (2017.64, 0.79),
    (2017.69, 0.67), (2017.79, 0.57), (2017.92, 0.67), (2018.06, 0.70), (2018.19, 0.67),
    (2018.32, 0.76), (2018.45, 0.73), (2018.59, 0.79), (2018.72, 0.79), (2018.82, 0.63),
    (2018.92, 0.44), (2019.02, 0.38), (2019.12, 0.54), (2019.22, 0.67), (2019.28, 0.78),
    (2019.38, 0.63), (2019.52, 0.67), (2019.65, 0.59), (2019.78, 0.60), (2019.91, 0.59),
    (2020.03, 0.57), (2020.11, 0.44), (2020.16, 0.12), (2020.20, -0.44), (2020.23, -0.81),
    (2020.28, -0.36), (2020.33, 0.12), (2020.39, 0.44), (2020.46, 0.51), (2020.51, 0.52),
    (2020.56, 0.46),
]

asset_names = ['energy', 'precious', 'base', 'crops', 'softs']
energy_names = ['brent', 'wti', 'gasoil', 'gasoline']
titles = ['Cumulative logarithmic returns for all asset classes, 2000-2020',
          'Cumulative logarithmic returns for crude oil and refined fuels, 2000-2020']
captions = [r'($\mathbf{a}$) Log returns: All commodities',
            r'($\mathbf{b}$) Log returns: Energy-specific commodities']
y_ticks = [-0.5, 0.0, 0.5, 1.0, 1.5]

colors = ['#008fd5', '#fc4f30', '#e5ae38', '#6d904f', '#8b8b8b']


def to_series(points):
    t = np.array([p[0] for p in points])
    v = np.array([p[1] for p in points])
    dates = pd.Timestamp('2000-01-01') + pd.to_timedelta((t - 2000.0) * 365.25, unit='D')
    return pd.Series(v, index=dates)


def draw_panel(ax, series, names, title, legend_loc):
    for s, name, c in zip(series, names, colors):
        ax.plot(s.index, s.values, color=c, linewidth=3.4, label=name)
    ax.set_title(title, fontsize=27, pad=10)
    ax.set_xlabel('date', fontsize=22)
    ax.set_yticks(y_ticks)
    ax.xaxis.set_major_locator(mdates.YearLocator(4))
    ax.xaxis.set_major_formatter(mdates.DateFormatter('%Y'))
    ax.tick_params(axis='both', labelsize=18)
    plt.setp(ax.get_xticklabels(), rotation=30, ha='right')
    ax.yaxis.grid(True, color='#d9d9d9', linewidth=2.8)
    ax.xaxis.grid(True, color='#d9d9d9', linewidth=1.4)
    ax.legend(loc=legend_loc, fontsize=19, frameon=True, facecolor='#f0f0f0',
              edgecolor='#e2e2e2', framealpha=0.8)


plt.style.use('fivethirtyeight')
plt.rcParams['font.family'] = ['DejaVu Sans']
plt.rcParams['axes.unicode_minus'] = False
plt.rcParams['mathtext.fontset'] = 'custom'
plt.rcParams['mathtext.rm'] = 'Liberation Serif'
plt.rcParams['mathtext.bf'] = 'Liberation Serif:bold'

fig = plt.figure(figsize=(43.1, 14.91), dpi=100, facecolor='white')
for x0 in (0.00325, 0.5088):
    fig.add_artist(Rectangle((x0, 0.0845), 0.4868, 0.9061, transform=fig.transFigure,
                             facecolor='#f0f0f0', edgecolor='none', zorder=-1))

ax1 = fig.add_axes([0.02343, 0.1697, 0.4640, 0.7807])
ax2 = fig.add_axes([0.5293, 0.1697, 0.4640, 0.7807])

draw_panel(ax1, [to_series(p) for p in (energy, precious, base, crops, softs)],
           asset_names, titles[0], 'upper left')
draw_panel(ax2, [to_series(p) for p in (brent, wti, gasoil, gasoline)],
           energy_names, titles[1], 'upper right')

fig.text(0.2453, 0.034, captions[0], ha='center', va='center',
         family='Liberation Serif', fontsize=64)
fig.text(0.7517, 0.034, captions[1], ha='center', va='center',
         family='Liberation Serif', fontsize=64)

fig.savefig('out.png', dpi=100, facecolor='white')
